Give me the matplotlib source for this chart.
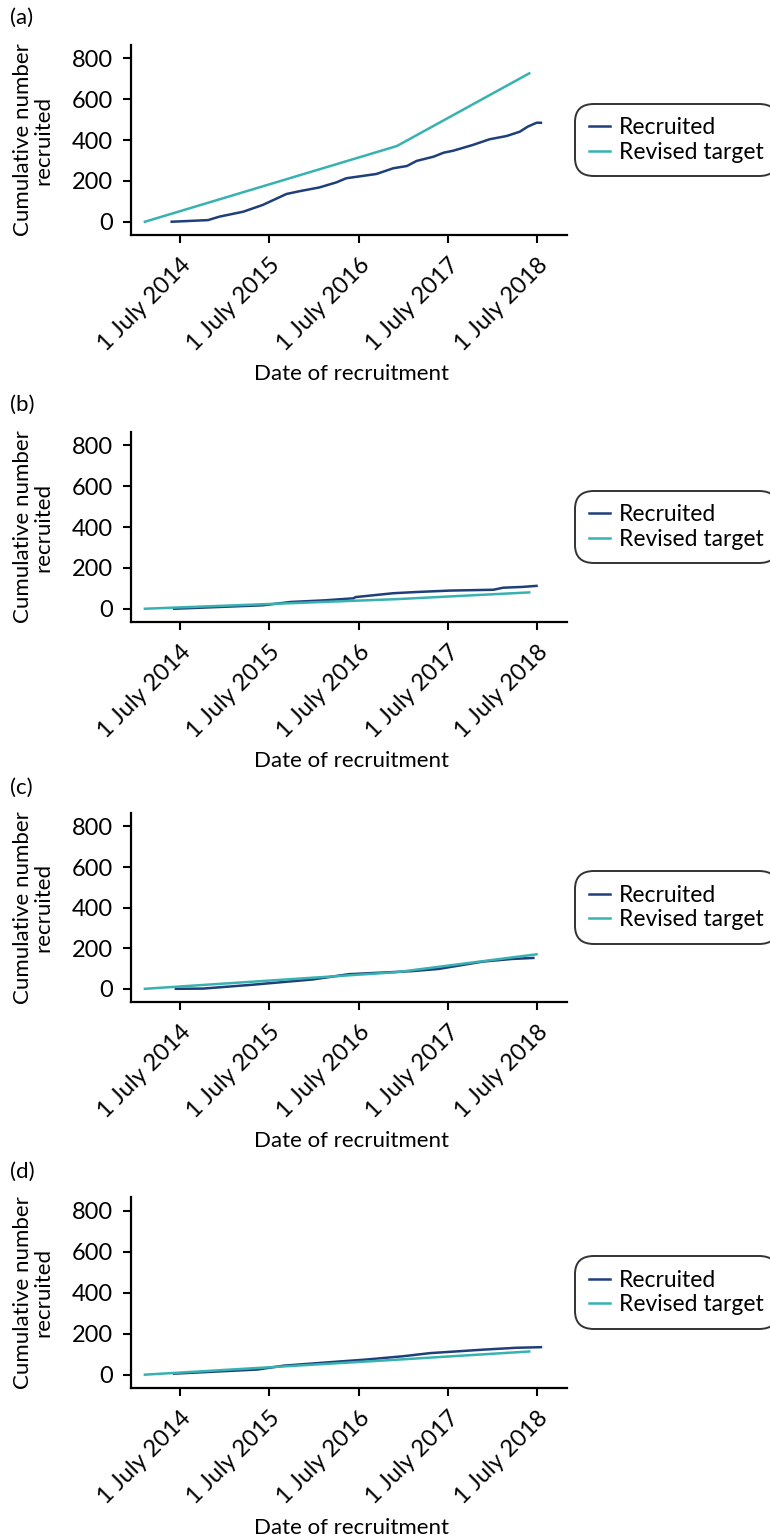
import matplotlib
matplotlib.use("Agg")
import matplotlib.pyplot as plt
import matplotlib.transforms as mtransforms
import pandas as pd

plt.rcParams['font.family'] = ['Lato', 'DejaVu Sans']

panel_labels = ['(a)', '(b)', '(c)', '(d)']

# recruited (cumulative)
rec_dates_a = ['2014-05-26', '2014-10-22', '2014-12-08', '2015-03-15', '2015-06-03', '2015-09-09',
               '2015-11-03', '2016-01-22', '2016-04-01', '2016-05-11', '2016-09-12', '2016-11-20',
               '2017-01-15', '2017-02-24', '2017-05-05', '2017-06-14', '2017-07-24', '2017-10-12',
               '2017-12-20', '2018-02-28', '2018-04-23', '2018-05-26', '2018-07-01', '2018-07-19']
rec_vals_a = [0, 8, 25, 49, 82, 136, 150, 168, 193, 213, 234, 262,
              273, 298, 319, 338, 348, 376, 404, 420, 441, 466, 485, 485]

rec_dates_b = ['2014-06-05', '2015-06-05', '2015-09-25', '2016-02-10', '2016-06-10', '2016-06-18',
               '2016-11-20', '2017-02-24', '2017-07-12', '2018-01-05', '2018-02-14', '2018-05-05',
               '2018-07-01']
rec_vals_b = [0, 17, 33, 41, 51, 57, 76, 82, 89, 93, 103, 107, 112]

rec_dates_c = ['2014-06-12', '2014-10-01', '2015-04-22', '2015-12-25', '2016-05-22', '2017-02-05',
               '2017-05-26', '2017-11-22', '2018-03-22', '2018-06-18']
rec_vals_c = [0, 1, 20, 46, 72, 87, 98, 134, 147, 152]

rec_dates_d = ['2014-06-05', '2015-05-12', '2015-08-30', '2016-03-08', '2016-08-05', '2017-01-01',
               '2017-04-20', '2017-11-25', '2018-04-08', '2018-07-19']
rec_vals_d = [5, 25, 44, 61, 74, 90, 105, 122, 131, 134]

# revised target
tgt_dates_a = ['2014-02-05', '2016-12-05', '2018-06-01']
tgt_vals_a = [0, 371, 727]
tgt_dates_b = ['2014-02-05', '2016-12-05', '2018-06-01']
tgt_vals_b = [0, 47, 80]
tgt_dates_c = ['2014-02-05', '2016-12-05', '2018-07-01']
tgt_vals_c = [0, 82, 170]
tgt_dates_d = ['2014-02-05', '2016-12-05', '2018-06-01']
tgt_vals_d = [0, 73, 113]

tick_dates = ['2014-07-01', '2015-07-01', '2016-07-01', '2017-07-01', '2018-07-01']
tick_labels = ['1 July 2014', '1 July 2015', '1 July 2016', '1 July 2017', '1 July 2018']
y_ticks = [0, 200, 400, 600, 800]

recruited = [(rec_dates_a, rec_vals_a), (rec_dates_b, rec_vals_b),
             (rec_dates_c, rec_vals_c), (rec_dates_d, rec_vals_d)]
targets = [(tgt_dates_a, tgt_vals_a), (tgt_dates_b, tgt_vals_b),
           (tgt_dates_c, tgt_vals_c), (tgt_dates_d, tgt_vals_d)]

navy = '#1e3f7a'
teal = '#38b2b0'
fs = 17

fig = plt.figure(figsize=(7.7, 15.35), dpi=100)
H = 1535.0
W = 770.0
# axes boxes in pixels: top, bottom
boxes = [(45, 235), (432, 622), (813, 1002), (1197, 1388)]
label_y = [18, 405, 788, 1172]
shift = mtransforms.ScaledTranslation(-5 / 100, 0, fig.dpi_scale_trans)

for i in range(4):
    top, bot = boxes[i]
    ax = fig.add_axes([131 / W, 1 - bot / H, 436 / W, (bot - top) / H])
    rd, rv = recruited[i]
    td, tv = targets[i]
    ax.plot(pd.to_datetime(rd), rv, color=navy, lw=1.8, label='Recruited')
    ax.plot(pd.to_datetime(td), tv, color=teal, lw=1.8, label='Revised target')

    ax.set_xlim(pd.Timestamp('2013-12-10'), pd.Timestamp('2018-11-03'))
    ax.set_ylim(-65, 866)
    ax.set_yticks(y_ticks)
    ax.set_yticklabels([str(v) for v in y_ticks], fontsize=fs)
    ax.set_xticks(pd.to_datetime(tick_dates))
    ax.set_xticklabels(tick_labels, fontsize=fs, rotation=45, ha='right',
                       rotation_mode='anchor')
    for lab in ax.get_xticklabels():
        lab.set_transform(lab.get_transform() + shift)
    ax.tick_params(length=6, width=1.5)
    ax.tick_params(axis='y', pad=7)
    ax.tick_params(axis='x', pad=8)
    for s in ['top', 'right']:
        ax.spines[s].set_visible(False)
    for s in ['left', 'bottom']:
        ax.spines[s].set_linewidth(1.6)

    ax.set_ylabel('Cumulative number\nrecruited', fontsize=16, linespacing=1.05)
    ax.yaxis.set_label_coords(-0.178, 0.5)
    ax.set_xlabel('Date of recruitment', fontsize=16)
    ax.xaxis.set_label_coords(0.505, -0.68)

    leg = ax.legend(loc='center left', bbox_to_anchor=(1.03, 0.5), fontsize=16.5,
                    frameon=True, fancybox=True, handlelength=0.9, handletextpad=0.4,
                    borderpad=0.4, labelspacing=0.15, borderaxespad=0)
    leg.get_frame().set_edgecolor('black')
    leg.get_frame().set_linewidth(1.4)
    leg.get_frame().set_boxstyle('round,pad=0.2,rounding_size=0.8')

    fig.text(10 / W, 1 - label_y[i] / H, panel_labels[i], fontsize=16, va='center')

fig.savefig('out.png', dpi=100)
